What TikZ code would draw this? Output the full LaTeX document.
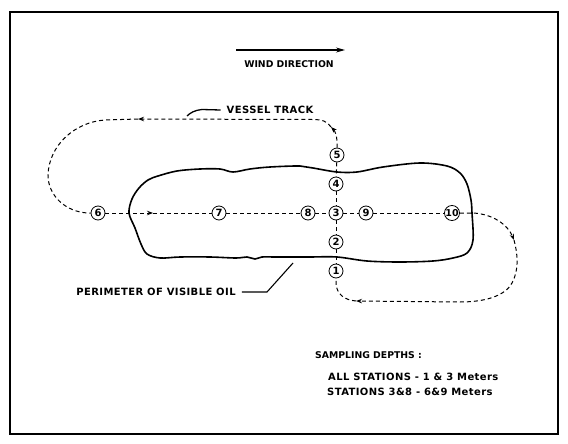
\documentclass[tikz,border=0pt]{standalone}
\usepackage{fontspec}
\setmainfont{DejaVu Sans}
\newfontfamily\spacedfont[LetterSpace=4]{DejaVu Sans}
\usetikzlibrary{arrows.meta}
\begin{document}
\begin{tikzpicture}[x=1pt,y=-1pt,
  lbl/.style={font=\fontsize{9.3}{11}\selectfont\bfseries, inner sep=0pt},
  slbl/.style={font=\spacedfont\fontsize{10}{12}\selectfont\bfseries, inner sep=0pt},
  stn/.style={circle, draw, line width=0.8pt, minimum size=14pt, inner sep=0pt,
    font=\fontsize{10}{10}\selectfont\bfseries},
  trk/.style={line width=1pt, dash pattern=on 4pt off 3pt},
  tip/.style={-{Stealth[length=6pt,width=4.5pt]}},
  oil/.style={line width=1.6pt, line join=round}]
\useasboundingbox (0,0) rectangle (568,444);
\draw[line width=1.8pt] (10,12) rectangle (558,434);

% wind
\coordinate (w1) at (236,50);
\coordinate (w2) at (345,50);
\draw[line width=1.1pt, -{Stealth[length=9pt,width=5pt]}] (w1) -- (w2);
\node[lbl] (wind) at (289,64) {WIND DIRECTION};

% oil perimeter
\draw[oil] plot[smooth cycle, tension=0.55] coordinates {
 (129,213) (132,199) (139,188) (148,180) (158,176) (177,171) (200,169) (220,169)
 (233,172) (250,169) (270,167) (300,166) (313,168) (337,172) (357,172) (383,167)
 (420,163) (447,166) (460,173) (467,184) (471,200) (472,213) (473,240) (467,253)
 (453,258) (433,261) (400,262) (367,261) (337,257) (310,257) (292,257) (275,257)
 (262,257) (255,259) (247,257) (236,258) (210,257) (180,257) (160,258) (147,254)
 (141,244) (135,228)};

% stations
\node[stn] (s6) at (98,213) {6};
\node[stn] (s7) at (219,213) {7};
\node[stn] (s8) at (308,213) {8};
\node[stn] (s3) at (336,213) {3};
\node[stn] (s9) at (366,213) {9};
\node[stn, font=\fontsize{9.5}{10}\selectfont\bfseries] (s10) at (452,213) {10};
\node[stn] (s5) at (337,155) {5};
\node[stn] (s4) at (336,184) {4};
\node[stn] (s2) at (336,242) {2};
\node[stn] (s1) at (336,271) {1};

% station lines
\draw[trk] (s7) -- (s8);
\draw[trk] (s8) -- (s3);
\draw[trk] (s3) -- (s9);
\draw[trk] (s9) -- (s10);
\draw[trk] (s5) -- (s4);
\draw[trk] (s4) -- (s3);
\draw[trk] (s3) -- (s2);
\draw[trk] (s2) -- (s1);

% vessel track
\coordinate (a1) at (153,213);
\coordinate (t1) at (331,127);
\coordinate (t2) at (138,119);
\coordinate (r1) at (514,240);
\coordinate (b1) at (356,301);
\draw[trk, tip] (s6) -- (a1);
\draw[trk] (a1) -- (s7);
\draw[trk, tip] (s5.north) -- (337,142) .. controls (337,136) and (335,131) .. (t1);
\draw[trk, tip] (t1) .. controls (327,121) and (322,119.5) .. (312,119.5) -- (t2);
\draw[trk] (t2) -- (105,120) .. controls (75,122) and (49,145) .. (48,175)
  .. controls (48,196) and (66,212) .. (88,213) -- (s6);
\draw[trk, tip] (s10) -- (473,213) .. controls (493,214) and (508,225) .. (r1);
\draw[trk, tip] (r1) .. controls (518,255) and (519,270) .. (512,283)
  .. controls (505,296) and (485,302) .. (460,302) -- (b1);
\draw[trk] (b1) .. controls (344,300) and (337,294) .. (336,284) -- (s1);

% labels
\node[slbl] (vt) at (270,110) {VESSEL TRACK};
\coordinate (v1) at (202,109.5);
\coordinate (v2) at (187,116);
\draw[line width=1.3pt] (vt.west) ++(-6,0) -- (v1) .. controls (195,110) and (190,113) .. (v2);

\node[slbl] (per) at (156,292) {PERIMETER OF VISIBLE OIL};
\coordinate (p1) at (267,292);
\coordinate (p2) at (293,263);
\draw[line width=1.1pt] (per.east) ++(6,0) -- (p1) -- (p2);

\node[lbl, anchor=west] (sd) at (315,355) {SAMPLING DEPTHS :};
\node[slbl, anchor=west] (l1) at (328,377) {ALL STATIONS - 1 \& 3 Meters};
\node[slbl, anchor=west] (l2) at (327,392) {STATIONS 3\&8 - 6\&9 Meters};
\end{tikzpicture}
\end{document}
